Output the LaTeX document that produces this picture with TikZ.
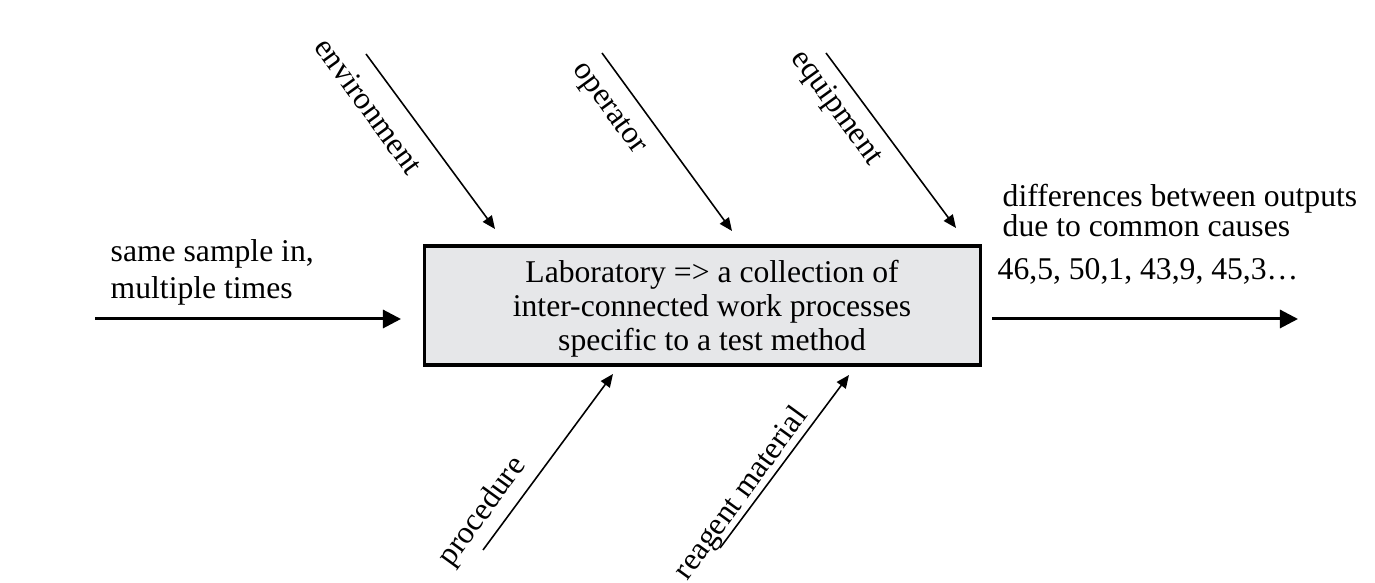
\documentclass[tikz,border=0pt]{standalone}
\usepackage{fontspec}
\setmainfont{Liberation Serif}
\usepackage{xcolor}
\usetikzlibrary{positioning}
\usetikzlibrary{arrows.meta}
\usetikzlibrary{math}

\definecolor{boxgrey}{RGB}{230,231,233}

\tikzset{
  labbox/.style={draw, line width=0.9pt, fill=boxgrey,
    minimum width=5.55cm, minimum height=1.19cm},
  labtext/.style={inner sep=0pt, align=center, font=\fontsize{9}{9.7}\selectfont},
  flowarrow/.style={line width=0.85pt, -{Triangle[length=1.8mm,width=1.8mm]}},
  causearrow/.style={line width=0.45pt, -{Triangle[length=1.3mm,width=1.1mm]}},
  causetext/.style={inner sep=0pt, font=\fontsize{9}{10}\selectfont},
  sidetext/.style={inner sep=0pt, align=left}
}

\begin{document}
\begin{tikzpicture}[x=0.01cm,y=-0.01cm]

  \tikzmath{
    \tilt = 54; % angle of the cause arrows
  }

  \useasboundingbox (0,0) rectangle (1375,583);

  % the laboratory box
  \node[labbox] (lab) at (702.5,305.5) {};
  \node[labtext] (labtext) at (712,308.7)
  {Laboratory => a collection of\\inter-connected work processes\\specific to a test method};

  % input and output
  \coordinate (inA)  at (95,319);
  \coordinate (inB)  at (401,319);
  \coordinate (outA) at (992,319);
  \coordinate (outB) at (1298,319);

  \draw[flowarrow] (inA) -- (inB);
  \draw[flowarrow] (outA) -- (outB);

  \node[sidetext, anchor=north west, font=\fontsize{9}{10.5}\selectfont] (sample) at (110,238.5)
  {same sample in,\\multiple times};

  \node[sidetext, anchor=north west, font=\fontsize{9}{8.5}\selectfont] (diffs) at (1002,183.5)
  {differences between outputs\\due to common causes};
  \node[sidetext, anchor=base west, font=\fontsize{9}{10}\selectfont] (values) at (997,280)
  {46,5, 50,1, 43,9, 45,3\dots};

  % causes from above
  \coordinate (envA) at (366,54);
  \coordinate (envB) at (495,229);
  \coordinate (opA)  at (602,53);
  \coordinate (opB)  at (732,231);
  \coordinate (eqA)  at (826,53);
  \coordinate (eqB)  at (956,228);

  \draw[causearrow] (envA) -- (envB);
  \draw[causearrow] (opA) -- (opB);
  \draw[causearrow] (eqA) -- (eqB);

  \node[causetext, rotate=-\tilt] (env) at (369,106) {environment};
  \node[causetext, rotate=-\tilt] (op)  at (608,109) {operator};
  \node[causetext, rotate=-\tilt] (eq)  at (836,108) {equipment};

  % causes from below
  \coordinate (procA) at (483,550);
  \coordinate (procB) at (613,374);
  \coordinate (reagA) at (720,548);
  \coordinate (reagB) at (849,375);

  \draw[causearrow] (procA) -- (procB);
  \draw[causearrow] (reagA) -- (reagB);

  \node[causetext, rotate=\tilt] (proc) at (483,512) {procedure};
  \node[causetext, rotate=\tilt] (reag) at (742,494) {reagent material};

\end{tikzpicture}
\end{document}
